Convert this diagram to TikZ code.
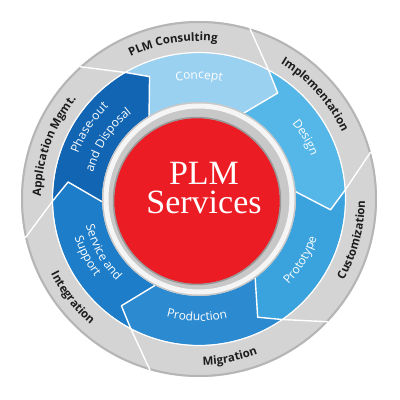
\documentclass[tikz,border=0pt]{standalone}
\usepackage{fontspec}
\setmainfont{Liberation Serif}
\newfontfamily\wheelfont{Open Sans}
\usetikzlibrary{decorations.text}

\definecolor{bandgray}{HTML}{D4D4D4}
\definecolor{bandedge}{HTML}{B5B5B5}
\definecolor{labelink}{HTML}{1C1C1C}
\definecolor{concept}{HTML}{9AD1F1}
\definecolor{design}{HTML}{55B6E8}
\definecolor{prototype}{HTML}{3AA3DE}
\definecolor{production}{HTML}{2B8AD0}
\definecolor{service}{HTML}{1D7DC9}
\definecolor{phaseout}{HTML}{1265B3}
\definecolor{hubred}{HTML}{EC1C24}
\definecolor{hubgray}{HTML}{C8C8C8}

\newcommand\bandfont{\wheelfont\bfseries\fontsize{11.5}{11.5}\selectfont\color{labelink}}
\newcommand\bladefont{\wheelfont\fontsize{12}{12}\selectfont\color{white}}

\tikzset{
  band label/.style={decorate,decoration={text along path,text align=center,text={|\bandfont|#1}}},
  blade label/.style={decorate,decoration={text along path,text align=center,text={|\bladefont|#1}}},
  sep/.style={white,line width=1.4pt,line join=round},
  hub text/.style={white,align=center,font=\fontsize{34}{29}\selectfont}
}

\begin{document}
\begin{tikzpicture}[x=1pt,y=1pt]
    \useasboundingbox (0,0) rectangle (400,400);
    \fill[white] (0,0) rectangle (400,400);
    \coordinate (hub) at (199,201);

    \begin{scope}[shift={(hub)}]
    % outer band
    \fill[bandgray] (0,0) circle[radius=178];
    \draw[bandedge,line width=2pt] (0,0) circle[radius=177];
    % the six blades
    \foreach \a/\b/\col in {112/53.4/concept, 53.4/-4.7/design, -4.7/-63.6/prototype,
                            -63.6/-126/production, -126/-187.4/service, 172.6/112/phaseout}
        \fill[\col] (\a+9:97) -- (\a:132) -- (\a+8:146)
            arc[start angle=\a+8,end angle=\b+8,radius=146]
            -- (\b:132) -- (\b+9:97)
            arc[start angle=\b+9,end angle=\a+9,radius=97] -- cycle;
    \draw[white,line width=1.2pt] (0,0) circle[radius=146.5];
    \foreach \p in {112,53.4,-4.7,-63.6,-126,172.6}
        \draw[sep] (\p+9:97) -- (\p:132) -- (\p+8:146) -- (\p+20:178);
    % hub rings
    \fill[hubgray] (0,0) circle[radius=97];
    \draw[white!92!gray,line width=5pt] (0,0) circle[radius=93];
    \fill[hubred] (-2,-2) circle[radius=83];
    \draw[gray!80,line width=1.5pt] (-2,-2) circle[radius=83.5];

    % band labels
    \foreach \ang/\txt in {99.5/PLM Consulting, 42/Implementation, 160/Application Mgmt.}
        \path[band label/.expanded=\txt] (\ang+70:158) arc[start angle=\ang+70,end angle=\ang-70,radius=158];
    \foreach \ang/\txt in {-15/Customization, -79/Migration, -142/Integration}
        \path[band label/.expanded=\txt] (\ang-70:166) arc[start angle=\ang-70,end angle=\ang+70,radius=166];

    % blade labels
    \foreach \ang/\rad/\txt in {90/120/Concept, 30/120/Design, 147/129/Phase-out, 147/109/and Disposal}
        \path[blade label/.expanded=\txt] (\ang+60:\rad) arc[start angle=\ang+60,end angle=\ang-60,radius=\rad];
    \foreach \ang/\rad/\txt in {-31/124/Prototype, -91/122/Production, -151/116/Service and, -153/130/Support}
        \path[blade label/.expanded=\txt] (\ang-60:\rad) arc[start angle=\ang-60,end angle=\ang+60,radius=\rad];
    \end{scope}

    \node[hub text] (plm) at ([shift={(5,11)}]hub) {PLM\\Services};
\end{tikzpicture}
\end{document}
